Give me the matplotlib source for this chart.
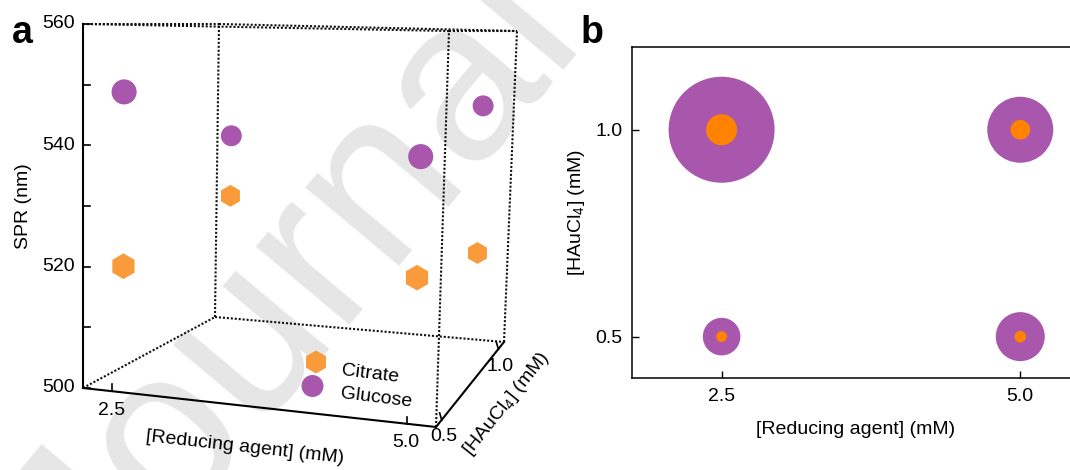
import numpy as np
import matplotlib.pyplot as plt

plt.rcParams['font.family'] = ['Liberation Sans', 'DejaVu Sans']
plt.rcParams['mathtext.fontset'] = 'custom'
plt.rcParams['mathtext.rm'] = 'Liberation Sans'
plt.rcParams['mathtext.it'] = 'Liberation Sans:italic'

# ---- data ----
reducing = [2.5, 2.5, 5.0, 5.0]          # [Reducing agent] (mM)
haucl4 = [0.5, 1.0, 0.5, 1.0]            # [HAuCl4] (mM)
spr_citrate = [519.8, 525.8, 521.6, 517.8]
spr_glucose = [548.8, 537.8, 540.4, 545.7]
# bubble diameters of panel b (relative units)
size_citrate = [5.4, 15.5, 5.8, 9.8]
size_glucose = [18.8, 53.0, 24.5, 33.0]

x_ticks = [2.5, 5.0]
y_ticks = [0.5, 1.0]
z_ticks = [500, 510, 520, 530, 540, 550, 560]
z_labels = {500: '500', 520: '520', 540: '540', 560: '560'}

purple = '#A957AC'
orange_a = '#F99A3B'
orange_b = '#FF8300'
dot_color = '#111111'

W, H = 1070, 470
PX = 0.72  # points per pixel at dpi 100

fig = plt.figure(figsize=(W / 100, H / 100), dpi=100)

# panel a: oblique 3D box drawn on a pixel-coordinate canvas
ax = fig.add_axes([0, 0, 1, 1])
ax.set_xlim(0, W)
ax.set_ylim(H, 0)
ax.axis('off')
ax.patch.set_alpha(0)

# watermark
ax.text(101, 621, 'Journal Pre-proof', rotation=50, rotation_mode='anchor',
        ha='left', va='baseline', fontsize=166, color='#E6E6E6', zorder=0)

xr = (2.25, 5.25)
yr = (0.45, 1.05)
zr = (500, 560)
# screen position of the box corners, index [u][v][w]
corners = np.zeros((2, 2, 2, 2))
corners[0, 0, 0] = (83, 388)
corners[1, 0, 0] = (436, 427)
corners[0, 0, 1] = (83, 24)
corners[1, 0, 1] = (449, 31)
corners[0, 1, 0] = (215, 317)
corners[1, 1, 0] = (504, 342)
corners[0, 1, 1] = (219, 24)
corners[1, 1, 1] = (517, 31)


def proj(x, y, z):
    u = (np.asarray(x, float) - xr[0]) / (xr[1] - xr[0])
    v = (np.asarray(y, float) - yr[0]) / (yr[1] - yr[0])
    w = (np.asarray(z, float) - zr[0]) / (zr[1] - zr[0])
    p = 0
    for i in (0, 1):
        for j in (0, 1):
            for k in (0, 1):
                wt = (u if i else 1 - u) * (v if j else 1 - v) * (w if k else 1 - w)
                p = p + np.multiply.outer(wt, corners[i, j, k])
    return p[..., 0], p[..., 1]


def corner(c):
    return (xr[c[0]], yr[c[1]], zr[c[2]])


solid_edges = [((0, 0, 0), (0, 0, 1)), ((0, 0, 0), (1, 0, 0)), ((1, 0, 0), (1, 1, 0))]
all_edges = []
for a in [(i, j, k) for i in (0, 1) for j in (0, 1) for k in (0, 1)]:
    for d in range(3):
        if a[d] == 0:
            b = list(a)
            b[d] = 1
            all_edges.append((a, tuple(b)))
for e in all_edges:
    if e in solid_edges:
        continue
    p0, p1 = corner(e[0]), corner(e[1])
    px, py = proj([p0[0], p1[0]], [p0[1], p1[1]], [p0[2], p1[2]])
    ax.plot(px, py, color=dot_color, lw=1.5, linestyle=(0, (1, 0.9)),
            solid_capstyle='butt', zorder=2)
for e in solid_edges:
    p0, p1 = corner(e[0]), corner(e[1])
    px, py = proj([p0[0], p1[0]], [p0[1], p1[1]], [p0[2], p1[2]])
    ax.plot(px, py, color='black', lw=1.5, solid_capstyle='projecting', zorder=2)

# ticks and tick labels
tk = 7
for z in z_ticks:
    px, py = proj(xr[0], yr[0], z)
    ax.plot([px, px + tk], [py, py], color='black', lw=1.2, zorder=2)
    if z in z_labels:
        ax.text(px - 8, py, z_labels[z], ha='right', va='center', fontsize=14)
for xt in x_ticks:
    px, py = proj(xt, yr[0], zr[0])
    ax.plot([px, px], [py, py - tk], color='black', lw=1.2, zorder=2)
    ax.text(px - 1, py + 19, '%.1f' % xt, ha='center', va='center', fontsize=14)
for yt in y_ticks:
    px, py = proj(xr[1], yt, zr[0])
    ax.plot([px, px - 2], [py, py - tk], color='black', lw=1.2, zorder=2)
    ax.text(px + 2, py + 17, '%.1f' % yt, ha='center', va='center', fontsize=14)

# axis titles
bx, by = proj(list(xr), [yr[0]] * 2, [zr[0]] * 2)
ang_x = -np.degrees(np.arctan2(by[1] - by[0], bx[1] - bx[0]))
ax.text(245, 447, '[Reducing agent] (mM)', rotation=ang_x, rotation_mode='anchor',
        ha='center', va='center', fontsize=14)
hx, hy = proj([xr[1]] * 2, list(yr), [zr[0]] * 2)
ang_y = -np.degrees(np.arctan2(hy[1] - hy[0], hx[1] - hx[0]))
ax.text(507, 404, r'[HAuCl$_4$] (mM)', rotation=ang_y, rotation_mode='anchor',
        ha='center', va='center', fontsize=14)
ax.text(24, 206, 'SPR (nm)', rotation=90, ha='center', va='center', fontsize=14)

# data markers, size shrinks with depth
depth = (np.array(haucl4) - yr[0]) / (yr[1] - yr[0])
gx, gy = proj(reducing, haucl4, spr_glucose)
cx, cy = proj(reducing, haucl4, spr_citrate)
ax.scatter(gx, gy, s=((25.5 - 5 * depth) * PX) ** 2, marker='o', color=purple,
           edgecolors='none', zorder=3)
ax.scatter(cx, cy, s=((26 - 4.5 * depth) * PX) ** 2, marker='h', color=orange_a,
           edgecolors='none', zorder=3)

# legend
ax.scatter([316], [362], s=(23 * PX) ** 2, marker='h', color=orange_a, edgecolors='none', zorder=3)
ax.scatter([312.5], [386], s=(22 * PX) ** 2, marker='o', color=purple, edgecolors='none', zorder=3)
ax.text(342, 371, 'Citrate', rotation=-7, rotation_mode='anchor', ha='left',
        va='center', fontsize=14)
ax.text(341, 394, 'Glucose', rotation=-7, rotation_mode='anchor', ha='left',
        va='center', fontsize=14)

# panel letters
fig.text(12 / W, 1 - 43 / H, 'a', fontsize=27, fontweight='bold', va='baseline')
fig.text(581 / W, 1 - 43 / H, 'b', fontsize=27, fontweight='bold', va='baseline')

# panel b: bubble chart
axb = fig.add_axes([632 / W, 1 - 378 / H, (1080 - 632) / W, 331 / H])
axb.patch.set_alpha(0)
axb.scatter(reducing, haucl4, s=(np.array(size_glucose) * 2 * PX) ** 2,
            color=purple, edgecolors='none', zorder=2)
axb.scatter(reducing, haucl4, s=(np.array(size_citrate) * 2 * PX) ** 2,
            color=orange_b, edgecolors='none', zorder=3)
axb.set_xlim(1.75, 5.5)
axb.set_ylim(0.4, 1.2)
axb.set_xticks(x_ticks)
axb.set_yticks(y_ticks)
axb.set_xticklabels(['%.1f' % t for t in x_ticks])
axb.set_yticklabels(['%.1f' % t for t in y_ticks])
axb.tick_params(direction='in', length=5, width=1, labelsize=14, pad=7)
for s in axb.spines.values():
    s.set_linewidth(1.1)
axb.set_xlabel('[Reducing agent] (mM)', fontsize=14, labelpad=12)
axb.set_ylabel(r'[HAuCl$_4$] (mM)', fontsize=14, labelpad=6)

fig.savefig('out.png', dpi=100)
